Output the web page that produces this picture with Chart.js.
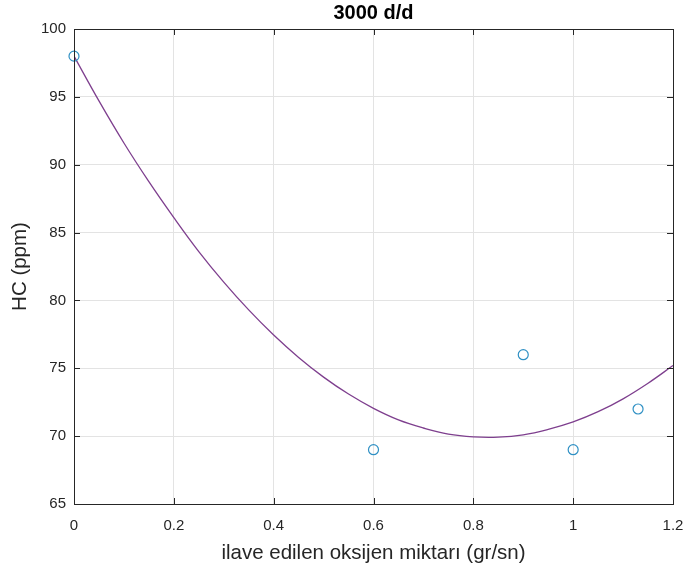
<!DOCTYPE html>
<html>
<head>
<meta charset="utf-8">
<script src="https://cdn.jsdelivr.net/npm/chart.js@4.4.0/dist/chart.umd.min.js"></script>
<style>
  html, body { margin: 0; padding: 0; background: #fff; }
  #wrap { width: 686px; height: 574px; }
</style>
</head>
<body>
<div id="wrap"><canvas id="hcChart" width="686" height="574"></canvas></div>
<script>
// measured points
const measX = [0, 0.6, 0.9, 1.0, 1.13];
const measHC = [98, 69, 76, 69, 72];

// fitted curve
const fitX = [0, 0.05, 0.1, 0.15, 0.2, 0.25, 0.3, 0.35, 0.4, 0.45, 0.5, 0.55, 0.6,
  0.65, 0.7, 0.75, 0.8, 0.85, 0.9, 0.95, 1.0, 1.05, 1.1, 1.15, 1.2];
const fitHC = [98.0, 94.7, 91.6, 88.75, 86.1, 83.6, 81.35, 79.3, 77.45, 75.8, 74.35, 73.1, 72.05,
  71.2, 70.6, 70.15, 69.95, 69.93, 70.1, 70.5, 71.05, 71.8, 72.75, 73.9, 75.2];

const xTicks = [0, 0.2, 0.4, 0.6, 0.8, 1, 1.2];
const xTickLabels = ["0", "0.2", "0.4", "0.6", "0.8", "1", "1.2"];
const yTicks = [65, 70, 75, 80, 85, 90, 95, 100];
const yTickLabels = ["65", "70", "75", "80", "85", "90", "95", "100"];

const FONT = "'Liberation Sans', Arial, Helvetica, sans-serif";
const AXIS_COLOR = "#262626";

// box around the axes + inward ticks, like matlab
const boxPlugin = {
  id: "boxPlugin",
  afterLayout(chart) {
    // center the title over the plot area, not the canvas
    if (chart.titleBlock) {
      chart.titleBlock.left = chart.chartArea.left;
      chart.titleBlock.right = chart.chartArea.right;
    }
  },
  afterDatasetsDraw(chart) {
    const { ctx, chartArea: a, scales } = chart;
    const tl = 6;
    ctx.save();
    ctx.strokeStyle = AXIS_COLOR;
    ctx.lineWidth = 1;
    ctx.beginPath();
    scales.x.ticks.forEach(t => {
      const px = Math.round(scales.x.getPixelForValue(t.value)) + 0.5;
      ctx.moveTo(px, a.bottom); ctx.lineTo(px, a.bottom - tl);
      ctx.moveTo(px, a.top); ctx.lineTo(px, a.top + tl);
    });
    scales.y.ticks.forEach(t => {
      const py = Math.round(scales.y.getPixelForValue(t.value)) + 0.5;
      ctx.moveTo(a.left, py); ctx.lineTo(a.left + tl, py);
      ctx.moveTo(a.right, py); ctx.lineTo(a.right - tl, py);
    });
    ctx.stroke();
    ctx.strokeRect(Math.round(a.left) + 0.5, Math.round(a.top) + 0.5,
      Math.round(a.right - a.left), Math.round(a.bottom - a.top));
    ctx.restore();
  }
};

const ctx = document.getElementById("hcChart").getContext("2d");
new Chart(ctx, {
  type: "scatter",
  data: {
    datasets: [
      {
        label: "ölçüm",
        data: measX.map((x, i) => ({ x: x, y: measHC[i] })),
        showLine: false,
        pointStyle: "circle",
        pointRadius: 5,
        pointBorderWidth: 1.2,
        pointBorderColor: "#2f90c4",
        pointBackgroundColor: "rgba(0,0,0,0)",
        clip: false,
      },
      {
        label: "fit",
        data: fitX.map((x, i) => ({ x: x, y: fitHC[i] })),
        showLine: true,
        borderColor: "#7e3f8e",
        borderWidth: 1.3,
        pointRadius: 0,
        tension: 0.4,
        fill: false,
      },
    ],
  },
  options: {
    responsive: false,
    animation: false,
    layout: { padding: { left: 0, right: 13, top: 0, bottom: 0 } },
    plugins: {
      legend: { display: false },
      tooltip: { enabled: false },
      title: {
        display: true,
        text: "3000 d/d",
        color: "#000",
        font: { family: FONT, size: 20, weight: "bold", lineHeight: 1.2 },
        padding: { top: 1, bottom: 4 },
      },
    },
    scales: {
      x: {
        type: "linear",
        min: 0,
        max: 1.2,
        afterBuildTicks: (scale) => { scale.ticks = xTicks.map(v => ({ value: v })); },
        afterFit: (scale) => {
          scale.height = 70;
          scale.paddingLeft = 0;
          scale.paddingRight = 0;
        },
        grid: { color: "#e3e3e3", drawTicks: false },
        border: { display: false },
        ticks: {
          padding: 13,
          color: AXIS_COLOR,
          font: { family: FONT, size: 15 },
          maxRotation: 0,
          callback: (value) => xTickLabels[xTicks.indexOf(value)] ?? "",
        },
        title: {
          display: true,
          text: "ilave edilen oksijen miktarı (gr/sn)",
          color: AXIS_COLOR,
          font: { family: FONT, size: 20.5 },
          padding: { top: 0, bottom: 8 },
        },
      },
      y: {
        type: "linear",
        min: 65,
        max: 100,
        afterBuildTicks: (scale) => { scale.ticks = yTicks.map(v => ({ value: v })); },
        afterFit: (scale) => {
          scale.width = 74;
          scale.paddingTop = 0;
          scale.paddingBottom = 0;
        },
        grid: { color: "#e3e3e3", drawTicks: false },
        border: { display: false },
        ticks: {
          padding: 8,
          color: AXIS_COLOR,
          font: { family: FONT, size: 15 },
          callback: (value) => yTickLabels[yTicks.indexOf(value)] ?? "",
        },
        title: {
          display: true,
          text: "HC (ppm)",
          color: AXIS_COLOR,
          font: { family: FONT, size: 20.5 },
          padding: { top: 8, bottom: 0 },
        },
      },
    },
  },
  plugins: [boxPlugin],
});
</script>
</body>
</html>
